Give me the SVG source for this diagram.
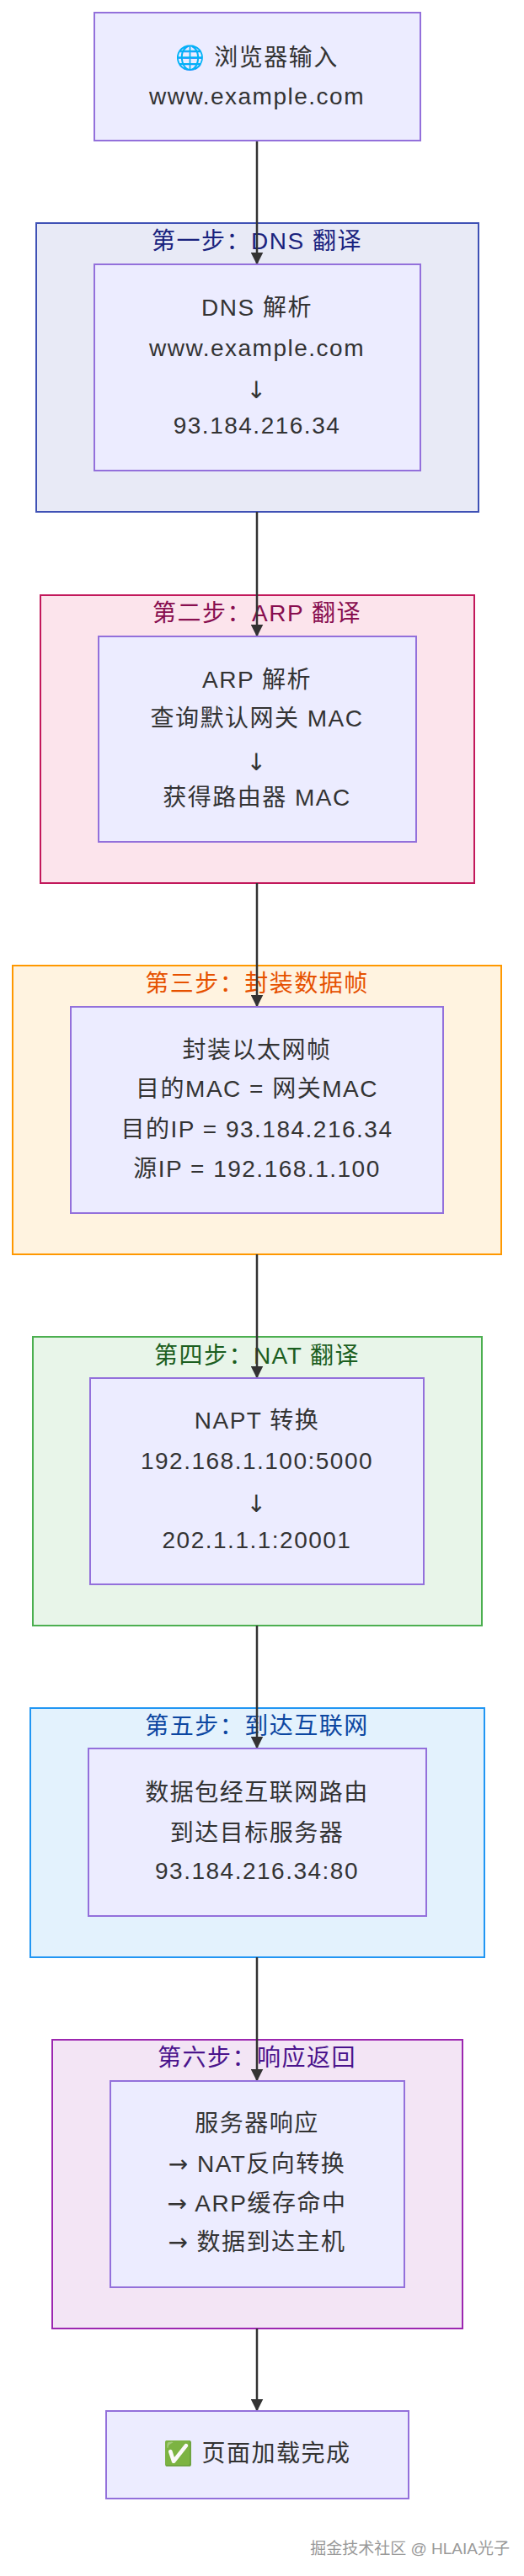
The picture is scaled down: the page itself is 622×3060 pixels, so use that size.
<svg xmlns="http://www.w3.org/2000/svg" width="622" height="3060" viewBox="0 0 622 3060">
<defs>
<marker id="ah" viewBox="0 0 10 10" refX="9" refY="5" markerWidth="6" markerHeight="6" orient="auto"><path d="M0,0 L10,5 L0,10 z" fill="#333"/></marker>
<style>
text{font-family:"Liberation Sans","Noto Sans CJK SC",sans-serif;text-anchor:middle;letter-spacing:1.5px}
.n{fill:#ECECFF;stroke:#9370DB;stroke-width:2}
.t{font-size:28px;fill:#333}
.ct{font-size:28px}
.a{font-family:"DejaVu Sans",sans-serif}
.e{stroke:#333;stroke-width:2.5;fill:none;marker-end:url(#ah)}
</style>
</defs>
<rect width="622" height="3060" fill="#fff"/>
<g id="c1"><rect x="43" y="265" width="525" height="343" fill="#e8eaf6" stroke="#3f51b5" stroke-width="2"/><text class="ct" x="305" y="296" fill="#1a237e">第一步：DNS 翻译</text></g>
<g id="c2"><rect x="48" y="707" width="515" height="342" fill="#fce4ec" stroke="#c2185b" stroke-width="2"/><text class="ct" x="305" y="738" fill="#880e4f">第二步：ARP 翻译</text></g>
<g id="c3"><rect x="15" y="1147" width="580" height="343" fill="#fff3e0" stroke="#ff9800" stroke-width="2"/><text class="ct" x="305" y="1178" fill="#e65100">第三步：封装数据帧</text></g>
<g id="c4"><rect x="39" y="1588" width="533" height="343" fill="#e8f5e9" stroke="#4caf50" stroke-width="2"/><text class="ct" x="305" y="1620" fill="#1b5e20">第四步：NAT 翻译</text></g>
<g id="c5"><rect x="36" y="2029" width="539" height="296" fill="#e3f2fd" stroke="#2196f3" stroke-width="2"/><text class="ct" x="305" y="2060" fill="#0d47a1">第五步：到达互联网</text></g>
<g id="c6"><rect x="62" y="2423" width="487" height="343" fill="#f3e5f5" stroke="#9c27b0" stroke-width="2"/><text class="ct" x="305" y="2454" fill="#4a148c">第六步：响应返回</text></g>
<g id="edges">
<line class="e" x1="305" y1="167" x2="305" y2="313"/>
<line class="e" x1="305" y1="608" x2="305" y2="755"/>
<line class="e" x1="305" y1="1049" x2="305" y2="1195"/>
<line class="e" x1="305" y1="1490" x2="305" y2="1636"/>
<line class="e" x1="305" y1="1931" x2="305" y2="2076"/>
<line class="e" x1="305" y1="2325" x2="305" y2="2471"/>
<line class="e" x1="305" y1="2766" x2="305" y2="2863"/>
</g>
<g id="start"><rect class="n" x="112" y="15" width="387" height="152"/><text class="t" x="305" y="78">🌐 浏览器输入</text><text class="t" x="305" y="124">www.example.com</text></g>
<g id="dns"><rect class="n" x="112" y="314" width="387" height="245"/><text class="t" x="305" y="375">DNS 解析</text><text class="t" x="305" y="423">www.example.com</text><text class="t a" x="305" y="473">↓</text><text class="t" x="305" y="515">93.184.216.34</text></g>
<g id="arp"><rect class="n" x="117" y="756" width="377" height="244"/><text class="t" x="305" y="817">ARP 解析</text><text class="t" x="305" y="863">查询默认网关 MAC</text><text class="t a" x="305" y="915">↓</text><text class="t" x="305" y="957">获得路由器 MAC</text></g>
<g id="frame"><rect class="n" x="84" y="1196" width="442" height="245"/><text class="t" x="305" y="1257">封装以太网帧</text><text class="t" x="305" y="1303">目的MAC = 网关MAC</text><text class="t" x="305" y="1351">目的IP = 93.184.216.34</text><text class="t" x="305" y="1398">源IP = 192.168.1.100</text></g>
<g id="nat"><rect class="n" x="107" y="1637" width="396" height="245"/><text class="t" x="305" y="1697">NAPT 转换</text><text class="t" x="305" y="1745">192.168.1.100:5000</text><text class="t a" x="305" y="1796">↓</text><text class="t" x="305" y="1839">202.1.1.1:20001</text></g>
<g id="inet"><rect class="n" x="105" y="2077" width="401" height="199"/><text class="t" x="305" y="2139">数据包经互联网路由</text><text class="t" x="305" y="2187">到达目标服务器</text><text class="t" x="305" y="2232">93.184.216.34:80</text></g>
<g id="resp"><rect class="n" x="131" y="2472" width="349" height="245"/><text class="t" x="305" y="2532">服务器响应</text><text class="t" x="305" y="2580"><tspan class="a">→</tspan> NAT反向转换</text><text class="t" x="305" y="2627"><tspan class="a">→</tspan> ARP缓存命中</text><text class="t" x="305" y="2673"><tspan class="a">→</tspan> 数据到达主机</text></g>
<g id="done"><rect class="n" x="126" y="2864" width="359" height="104"/><text class="t" x="305" y="2924">✅ 页面加载完成</text></g>
<text x="605" y="3034" style="font-size:19px;fill:#999;text-anchor:end;letter-spacing:0">掘金技术社区 @ HLAIA光子</text>
</svg>
